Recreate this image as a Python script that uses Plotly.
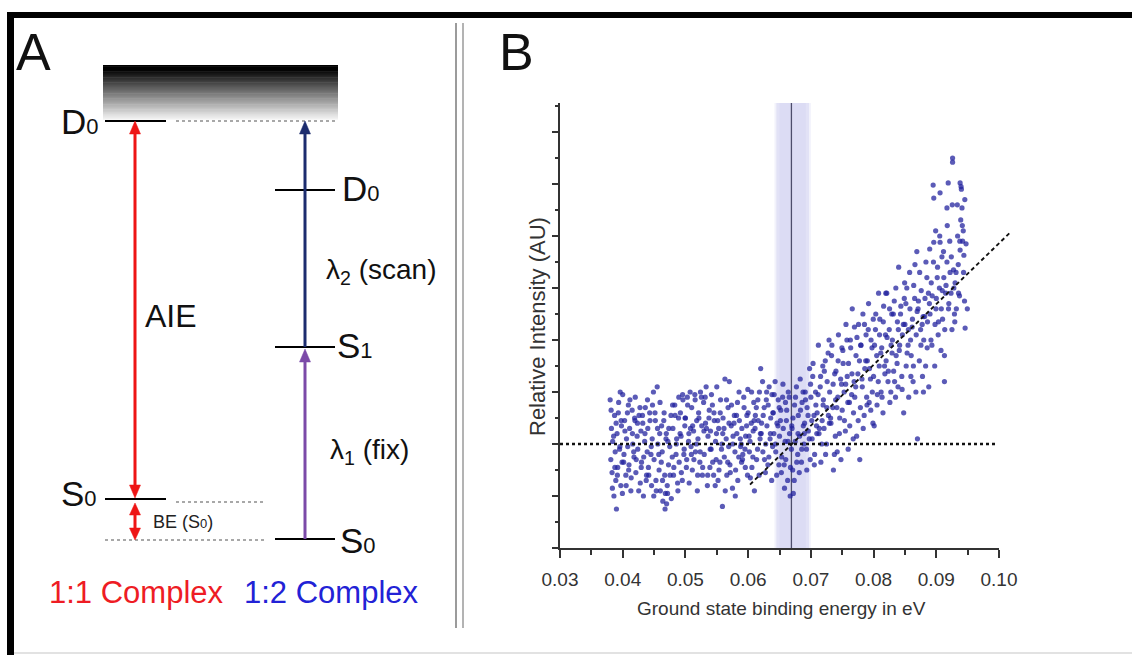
import plotly.graph_objects as go

W, H = 1132, 655

# ---------------- Panel B data ----------------
energy_ev = [
    0.0380, 0.0381, 0.0382, 0.0383, 0.0384, 0.0386, 0.0387, 0.0388, 0.0389,
    0.0390, 0.0391, 0.0392, 0.0393, 0.0395, 0.0396, 0.0397, 0.0398, 0.0399,
    0.0400, 0.0402, 0.0403, 0.0405, 0.0406, 0.0408, 0.0409,
    0.0410, 0.0411, 0.0413, 0.0415, 0.0416, 0.0418, 0.0419,
    0.0420, 0.0421, 0.0423, 0.0424, 0.0426, 0.0428, 0.0429,
    0.0430, 0.0432, 0.0433, 0.0435, 0.0436, 0.0438, 0.0439,
    0.0440, 0.0441, 0.0443, 0.0445, 0.0446, 0.0447, 0.0449,
    0.0450, 0.0452, 0.0453, 0.0455, 0.0456, 0.0458, 0.0459,
    0.0460, 0.0462, 0.0463, 0.0464, 0.0466, 0.0467, 0.0468, 0.0469,
    0.0470, 0.0471, 0.0472, 0.0473, 0.0475, 0.0477, 0.0479,
    0.0480, 0.0481, 0.0483, 0.0485, 0.0486, 0.0488, 0.0489,
    0.0490, 0.0492, 0.0493, 0.0495, 0.0496, 0.0498, 0.0499,
    0.0500, 0.0502, 0.0503, 0.0505, 0.0506, 0.0508, 0.0509,
    0.0510, 0.0511, 0.0513, 0.0515, 0.0516, 0.0518, 0.0519,
    0.0520, 0.0521, 0.0523, 0.0524, 0.0526, 0.0527, 0.0529,
    0.0530, 0.0532, 0.0533, 0.0535, 0.0536, 0.0538, 0.0539,
    0.0540, 0.0541, 0.0543, 0.0545, 0.0546, 0.0548, 0.0549,
    0.0550, 0.0552, 0.0553, 0.0555, 0.0556, 0.0558, 0.0559,
    0.0560, 0.0562, 0.0563, 0.0565, 0.0566, 0.0568, 0.0569,
    0.0570, 0.0571, 0.0573, 0.0575, 0.0576, 0.0578, 0.0579,
    0.0580, 0.0582, 0.0583, 0.0585, 0.0586, 0.0588, 0.0589,
    0.0590, 0.0591, 0.0593, 0.0595, 0.0596, 0.0598, 0.0599,
    0.0600, 0.0602, 0.0603, 0.0605, 0.0606, 0.0608, 0.0609,
    0.0610, 0.0611, 0.0613, 0.0615, 0.0616, 0.0618, 0.0619,
    0.0620, 0.0621, 0.0623, 0.0624, 0.0626, 0.0628, 0.0629,
    0.0630, 0.0632, 0.0633, 0.0635, 0.0636, 0.0638, 0.0639,
    0.0640, 0.0641, 0.0643, 0.0644, 0.0646, 0.0648, 0.0649,
    0.0650, 0.0652, 0.0653, 0.0655, 0.0656, 0.0658, 0.0659,
    0.0660, 0.0661, 0.0663, 0.0664, 0.0666, 0.0667, 0.0669,
    0.0670, 0.0671, 0.0672, 0.0674, 0.0675, 0.0677, 0.0679,
    0.0680, 0.0682, 0.0683, 0.0685, 0.0686, 0.0688, 0.0689,
    0.0690, 0.0691, 0.0693, 0.0694, 0.0696, 0.0698, 0.0699,
    0.0700, 0.0702, 0.0703, 0.0705, 0.0706, 0.0708, 0.0709,
    0.0710, 0.0712, 0.0713, 0.0715, 0.0716, 0.0718, 0.0719,
    0.0720, 0.0721, 0.0723, 0.0725, 0.0726, 0.0728, 0.0729,
    0.0730, 0.0732, 0.0733, 0.0735, 0.0736, 0.0738, 0.0739,
    0.0740, 0.0742, 0.0743, 0.0744, 0.0746, 0.0748, 0.0749,
    0.0750, 0.0751, 0.0753, 0.0755, 0.0756, 0.0758, 0.0759,
    0.0760, 0.0762, 0.0763, 0.0765, 0.0766, 0.0768, 0.0769,
    0.0770, 0.0772, 0.0773, 0.0775, 0.0776, 0.0778, 0.0779,
    0.0780, 0.0782, 0.0783, 0.0785, 0.0786, 0.0788, 0.0789,
    0.0790, 0.0792, 0.0793, 0.0795, 0.0796, 0.0798, 0.0799,
    0.0800, 0.0801, 0.0803, 0.0805, 0.0806, 0.0808, 0.0809,
    0.0810, 0.0812, 0.0813, 0.0815, 0.0816, 0.0818, 0.0819,
    0.0820, 0.0821, 0.0823, 0.0825, 0.0826, 0.0828, 0.0829,
    0.0830, 0.0832, 0.0833, 0.0835, 0.0836, 0.0838, 0.0839,
    0.0840, 0.0841, 0.0843, 0.0845, 0.0846, 0.0848, 0.0849,
    0.0850, 0.0852, 0.0853, 0.0855, 0.0856, 0.0858, 0.0859,
    0.0860, 0.0862, 0.0863, 0.0864, 0.0866, 0.0868, 0.0869,
    0.0870, 0.0871, 0.0873, 0.0875, 0.0876, 0.0878, 0.0879,
    0.0880, 0.0882, 0.0883, 0.0885, 0.0886, 0.0888, 0.0889,
    0.0890, 0.0892, 0.0893, 0.0895, 0.0896, 0.0896, 0.0898, 0.0899,
    0.0900, 0.0902, 0.0903, 0.0905, 0.0906, 0.0906, 0.0908, 0.0909,
    0.0910, 0.0912, 0.0913, 0.0913, 0.0915, 0.0917, 0.0917, 0.0919,
    0.0920, 0.0922, 0.0924, 0.0925, 0.0926, 0.0926, 0.0928, 0.0929,
    0.0930, 0.0932, 0.0934, 0.0935, 0.0937, 0.0938, 0.0938, 0.0939,
    0.0940, 0.0941, 0.0942, 0.0943, 0.0944, 0.0945, 0.0946,
]
rel_intensity = [
    0.85, -0.30, 0.30, -0.55, 0.05, -1.00, 0.55, -0.15, -0.70,
    -1.25, 0.20, -0.45, 0.60, -0.10, 1.00, -0.80, 0.35, -0.35,
    0.95, -0.20, 0.45, -0.60, 0.10, -0.05, 0.75,
    -0.40, 0.30, -0.90, 0.65, 0.00, -0.25, 0.50,
    0.90, -0.55, 0.15, -0.10, 0.55, -0.75, 0.25,
    -0.35, 0.40, -1.00, 0.05, 0.70, -0.60, -0.15,
    0.30, -0.45, 0.60, -0.20, -0.80, 0.10, 1.00,
    -0.30, 0.45, -0.70, 1.10, 0.00, -0.50, 0.20,
    -0.90, 0.35, -0.15, -1.10, 0.60, -0.60, -0.95, 0.10,
    -1.15, -0.80, 0.05, -0.40, -0.05, 0.55, -0.25,
    0.30, -0.60, 0.75, -0.20, 0.10, -0.90, 0.50,
    -0.35, 0.60, 0.15, -0.70, 0.85, -0.10, 0.35,
    0.50, -0.30, 0.90, 0.05, -0.75, 0.30, -0.05,
    0.70, -0.50, 0.25, 0.95, -0.15, 0.45, -0.90,
    0.10, 0.60, -0.35, 1.00, 0.35, -0.60, 0.80,
    -0.20, 0.40, 1.10, -0.80, 0.15, 0.65, -0.45,
    0.25, -0.10, 0.75, -0.60, 0.45, 0.05, -0.30,
    1.10, -0.70, 0.30, -0.35, 0.85, 0.00, -1.20,
    0.50, -0.25, 1.25, 0.10, -0.60, 0.70, -0.05,
    1.20, -0.40, 0.35, -0.85, 0.15, 0.55, -0.15,
    -0.50, 0.20, 0.80, -0.25, 0.45, -0.05, 0.00,
    0.30, -0.30, 0.90, -0.10, 0.15, 0.55, -0.60,
    0.60, -0.15, 0.05, 0.40, -0.45, 0.25, 0.80,
    -0.90, 0.30, 0.70, -0.10, 0.45, 1.00, 0.10,
    1.45, 0.20, 1.20, 0.55, -0.30, 0.00, 0.85,
    0.35, 0.75, -0.25, 0.10, 0.50, 0.95, -0.05,
    0.60, 0.20, 1.20, -0.15, 0.40, 0.85, -0.40,
    0.15, 0.65, -0.55, 0.90, 0.30, -0.85, 0.05,
    -0.30, 0.45, -0.70, 1.00, 0.20, -1.00, -0.10,
    0.30, -0.50, -0.95, 0.75, 0.05, 1.10, -0.20,
    0.55, 0.15, 1.25, -0.35, 0.80, 0.35, 0.00,
    0.40, 1.00, -0.10, 0.70, 0.25, 1.45, -0.30,
    0.90, 0.10, 1.30, 0.55, -0.20, 0.75, 0.35,
    0.60, 1.90, 0.20, 1.10, -0.35, 0.45, 1.50,
    0.85, 0.30, 1.60, 0.00, 1.20, 0.55, 2.00,
    1.00, 0.40, 1.70, 0.70, -0.50, 1.35, 0.15,
    1.40, -0.15, 0.90, 2.10, 0.50, -0.30, 1.15,
    0.65, 1.80, 1.00, 0.25, 2.30, 1.30, 0.80,
    1.55, 0.35, 2.00, 0.95, 2.60, 0.60, 1.20,
    0.90, 1.70, 0.15, 1.35, 2.30, -0.30, 0.70,
    1.90, 1.10, 2.50, 0.55, 1.45, 2.10, 0.90,
    1.60, 2.70, 0.80, 1.25, 2.00, 1.00, 0.40,
    1.30, 0.35, 2.20, 1.70, 0.95, 2.90, 1.50,
    2.40, 1.00, 1.85, 0.60, 2.65, 1.35, 2.10,
    1.60, 2.90, 1.20, 2.20, 0.80, 1.90, 2.50,
    2.00, 1.40, 2.75, 0.90, 1.70, 2.35, 1.10,
    3.40, 1.80, 2.50, 1.30, 2.10, 0.60, 2.80,
    2.30, 1.50, 3.00, 1.90, 0.90, 2.60, 2.00,
    1.70, 2.40, 1.20, 3.05, 3.45, 2.10, 3.70,
    0.10, 2.60, 1.60, 2.20, 2.95, 1.30, 2.45,
    2.00, 2.80, 1.50, 3.20, 2.35, 1.10, 2.70,
    2.50, 3.10, 1.90, 4.98, 4.73, 3.88, 2.30, 4.10,
    2.80, 3.40, 2.10, 3.00, 4.83, 3.88, 2.60, 3.60,
    2.40, 3.20, 1.70, 1.20, 2.90, 4.54, 3.50, 5.02,
    2.70, 3.30, 3.60, 2.20, 5.50, 5.42, 3.00, 2.50,
    3.10, 2.60, 4.00, 3.45, 2.85, 5.02, 3.73, 4.31,
    4.90, 4.54, 3.90, 4.10, 3.63, 2.75, 2.23,
]

# second group of scan points (same scan, points between the ones above)
energy_ev_b = [
    0.03815, 0.03835, 0.03855, 0.03875, 0.03895,
    0.03915, 0.03935, 0.03955, 0.03975, 0.03995,
    0.04015, 0.04035, 0.04055, 0.04075, 0.04095,
    0.04115, 0.04135, 0.04155, 0.04175, 0.04195,
    0.04215, 0.04235, 0.04255, 0.04275, 0.04295,
    0.04315, 0.04335, 0.04355, 0.04375, 0.04395,
    0.04415, 0.04435, 0.04455, 0.04475, 0.04495,
    0.04515, 0.04535, 0.04555, 0.04575, 0.04595,
    0.04615, 0.04635, 0.04655, 0.04675, 0.04695,
    0.04715, 0.04735, 0.04755, 0.04775, 0.04795,
    0.04815, 0.04835, 0.04855, 0.04875, 0.04895,
    0.04915, 0.04935, 0.04955, 0.04975, 0.04995,
    0.05015, 0.05035, 0.05055, 0.05075, 0.05095,
    0.05115, 0.05135, 0.05155, 0.05175, 0.05195,
    0.05215, 0.05235, 0.05255, 0.05275, 0.05295,
    0.05315, 0.05335, 0.05355, 0.05375, 0.05395,
    0.05415, 0.05435, 0.05455, 0.05475, 0.05495,
    0.05515, 0.05535, 0.05555, 0.05575, 0.05595,
    0.05615, 0.05635, 0.05655, 0.05675, 0.05695,
    0.05715, 0.05735, 0.05755, 0.05775, 0.05795,
    0.05815, 0.05835, 0.05855, 0.05875, 0.05895,
    0.05915, 0.05935, 0.05955, 0.05975, 0.05995,
    0.06015, 0.06035, 0.06055, 0.06075, 0.06095,
    0.06115, 0.06135, 0.06155, 0.06175, 0.06195,
    0.06215, 0.06235, 0.06255, 0.06275, 0.06295,
    0.06315, 0.06335, 0.06355, 0.06375, 0.06395,
    0.06415, 0.06435, 0.06455, 0.06475, 0.06495,
    0.06515, 0.06535, 0.06555, 0.06575, 0.06595,
    0.06615, 0.06635, 0.06655, 0.06675, 0.06695,
    0.06715, 0.06735, 0.06755, 0.06775, 0.06795,
    0.06815, 0.06835, 0.06855, 0.06875, 0.06895,
    0.06915, 0.06935, 0.06955, 0.06975, 0.06995,
    0.07015, 0.07035, 0.07055, 0.07075, 0.07095,
    0.07115, 0.07135, 0.07155, 0.07175, 0.07195,
    0.07215, 0.07235, 0.07255, 0.07275, 0.07295,
    0.07315, 0.07335, 0.07355, 0.07375, 0.07395,
    0.07415, 0.07435, 0.07455, 0.07475, 0.07495,
    0.07515, 0.07535, 0.07555, 0.07575, 0.07595,
    0.07615, 0.07635, 0.07655, 0.07675, 0.07695,
    0.07715, 0.07735, 0.07755, 0.07775, 0.07795,
    0.07815, 0.07835, 0.07855, 0.07875, 0.07895,
    0.07915, 0.07935, 0.07955, 0.07975, 0.07995,
    0.08015, 0.08035, 0.08055, 0.08075, 0.08095,
    0.08115, 0.08135, 0.08155, 0.08175, 0.08195,
    0.08215, 0.08235, 0.08255, 0.08275, 0.08295,
    0.08315, 0.08335, 0.08355, 0.08375, 0.08395,
    0.08415, 0.08435, 0.08455, 0.08475, 0.08495,
    0.08515, 0.08535, 0.08555, 0.08575, 0.08595,
    0.08615, 0.08635, 0.08655, 0.08675, 0.08695,
    0.08715, 0.08735, 0.08755, 0.08775, 0.08795,
    0.08815, 0.08835, 0.08855, 0.08875, 0.08895,
    0.08915, 0.08935, 0.08955, 0.08975, 0.08995,
    0.09015, 0.09035, 0.09055, 0.09075, 0.09095,
    0.09115, 0.09135, 0.09155, 0.09175, 0.09195,
    0.09215, 0.09235, 0.09255, 0.09275, 0.09295,
    0.09315, 0.09335, 0.09355, 0.09375, 0.09395,
    0.09415, 0.09435, 0.09455, 0.09475, 0.09495,
]
rel_intensity_b = [
    0.65, -0.85, 0.15, -0.45, 0.40,
    -0.60, 0.80, -0.05, 0.45, -0.95,
    -0.35, 0.25, -0.80, 0.60, -0.50,
    0.85, -0.65, 0.20, -0.15, 0.45,
    -0.30, 0.40, -0.90, 0.70, -0.45,
    0.55, -0.25, 0.20, -0.70, 0.85,
    -0.60, 0.45, -0.05, 0.75, -1.00,
    0.60, -0.90, 0.30, -0.20, 0.80,
    -0.35, -0.70, 0.45, -1.25, 0.20,
    -0.95, 0.30, -0.60, -1.05, 0.75,
    -0.45, 0.55, 0.00, -0.75, 0.90,
    0.20, -0.55, 0.95, -0.20, 0.50,
    -0.45, 0.75, 0.20, 1.00, -0.20,
    0.35, -0.30, 0.85, 0.00, -0.60,
    0.50, -0.15, 0.90, -0.45, 0.25,
    0.90, 0.30, -0.60, 0.50, -0.10,
    0.95, -0.35, 0.60, -0.80, 0.20,
    0.45, -0.50, 0.60, -0.10, 0.20,
    0.30, -0.90, 0.85, -0.35, 0.40,
    -0.55, 0.75, 0.00, 0.40, -1.00,
    0.55, -0.70, 1.00, 0.10, -0.35,
    -0.20, 0.70, -0.45, 0.35, 1.05,
    0.15, -0.65, 1.00, -0.25, 0.45,
    0.55, -0.30, 0.85, -0.60, 0.20,
    0.40, -0.15, 0.70, -0.55, 1.00,
    -0.40, 1.10, 0.20, -0.70, 0.60,
    0.95, 0.00, -0.60, 0.35, 0.70,
    0.45, -0.25, 1.15, -0.40, 0.80,
    0.65, 0.05, 0.90, -0.45, 0.35,
    0.50, -0.70, 0.90, -0.35, 0.20,
    -0.55, 0.65, -0.10, 1.00, 0.20,
    0.85, -0.50, 0.55, 0.10, 1.15,
    0.45, 1.55, -0.40, 1.00, 0.20,
    0.95, 0.30, 1.30, 0.00, 0.75,
    1.40, -0.20, 0.70, 1.75, 0.40,
    0.50, 1.90, 1.15, -0.20, 0.85,
    0.70, 1.60, 0.20, 1.25, 1.85,
    1.55, 0.45, 1.15, 2.00, -0.10,
    0.80, 1.85, 1.35, 0.10, 2.25,
    1.10, 2.05, 0.45, 1.60, 1.90,
    1.25, 0.30, 2.30, 1.60, 0.75,
    2.20, 1.45, 0.65, 1.85, 2.40,
    1.90, 2.50, 0.75, 1.20, 2.10,
    1.75, 0.90, 2.35, 1.50, 2.90,
    2.05, 1.40, 2.60, 1.00, 1.75,
    2.50, 1.20, 3.00, 1.55, 2.20,
    1.90, 2.65, 1.05, 2.30, 3.10,
    2.70, 1.75, 2.20, 3.30, 1.30,
    2.25, 1.50, 2.80, 1.00, 2.55,
    2.75, 3.30, 1.90, 2.30, 1.00,
    2.45, 3.50, 1.85, 2.90, 3.75,
    2.00, 2.85, 3.50, 1.50, 2.60,
    3.20, 2.35, 4.00, 1.80, 2.95,
    3.70, 2.20, 3.05, 4.20, 2.60,
    3.90, 2.90, 4.60, 3.35, 2.35,
    3.30, 4.60, 2.90, 3.90, 4.95,
    4.20, 3.30, 4.70, 3.85, 2.60,
]

x_tick_values = [0.03, 0.04, 0.05, 0.06, 0.07, 0.08, 0.09, 0.10]
x_tick_labels = ["0.03", "0.04", "0.05", "0.06", "0.07", "0.08", "0.09", "0.10"]
x_minor_values = [0.035, 0.045, 0.055, 0.065, 0.075, 0.085, 0.095]

baseline_x = [0.030, 0.0995]
baseline_y = [0.0, 0.0]
fit_x = [0.0603, 0.1018]
fit_y = [-0.78, 4.07]
onset_ev = 0.0669
onset_band = [0.0645, 0.0697]

# ---------------- Panel A schematic levels (pixel positions) ----------------
level_left = {"D0": 121, "S0": 499, "base": 540}
level_right = {"D0": 190, "S1": 347, "S0": 539}

FONT = "Liberation Sans, Arial, sans-serif"


def px(x):
    return x / W


def py(y):
    return 1 - y / H


fig = go.Figure()

dot_color = "rgba(34,34,158,0.74)"
fig.add_trace(go.Scatter(
    x=energy_ev, y=rel_intensity, mode="markers",
    marker=dict(size=5.2, color=dot_color, line=dict(width=0)),
    xaxis="x", yaxis="y", hoverinfo="skip", showlegend=False))
fig.add_trace(go.Scatter(
    x=energy_ev_b, y=rel_intensity_b, mode="markers",
    marker=dict(size=5.2, color=dot_color, line=dict(width=0)),
    xaxis="x", yaxis="y", hoverinfo="skip", showlegend=False))
fig.add_trace(go.Scatter(
    x=baseline_x, y=baseline_y, mode="lines",
    line=dict(color="#111", width=2.3, dash="dot"),
    xaxis="x", yaxis="y", showlegend=False, hoverinfo="skip"))
fig.add_trace(go.Scatter(
    x=fit_x, y=fit_y, mode="lines",
    line=dict(color="#111", width=1.9, dash="4px,3px"),
    xaxis="x3", yaxis="y", showlegend=False, hoverinfo="skip"))

x_left_px, x_right_px, x_ext_px = 560, 999, 1015
y_bot_px, y_top_px = 548, 103
unit_px = 52.0
xspan = 0.10 - 0.03
ext_range_max = 0.03 + xspan * (x_ext_px - x_left_px) / (x_right_px - x_left_px)
y_range = [-2, -2 + (y_bot_px - y_top_px) / unit_px]

axis_col = "#333333"
fig.update_layout(
    template="none",
    width=W, height=H, autosize=False, margin=dict(l=0, r=0, t=0, b=0, pad=0, autoexpand=False),
    paper_bgcolor="white", plot_bgcolor="rgba(0,0,0,0)",
    showlegend=False,
    xaxis=dict(
        domain=[px(x_left_px), px(x_right_px)], range=[0.03, 0.10], anchor="y",
        automargin=False,
        showline=True, linecolor=axis_col, linewidth=1.6,
        ticks="outside", ticklen=8, tickwidth=1.5, tickcolor=axis_col,
        tickvals=x_tick_values, ticktext=x_tick_labels,
        tickfont=dict(family=FONT, size=19, color="#333"),
        ticklabelstandoff=5,
        minor=dict(tickvals=x_minor_values, ticks="outside", ticklen=5,
                   tickwidth=1.5, tickcolor=axis_col, showgrid=False),
        showgrid=False, zeroline=False, fixedrange=True,
    ),
    xaxis3=dict(
        domain=[px(x_left_px), px(x_ext_px)], range=[0.03, ext_range_max], anchor="y",
        automargin=False, visible=False, showgrid=False, zeroline=False,
    ),
    yaxis=dict(
        domain=[py(y_bot_px), py(y_top_px)], range=y_range, anchor="x",
        automargin=False,
        showline=True, linecolor=axis_col, linewidth=1.6,
        ticks="outside", ticklen=6, tickwidth=1.5, tickcolor=axis_col,
        tick0=0, dtick=1, showticklabels=False,
        minor=dict(ticks="outside", ticklen=3, tickwidth=1.5, tickcolor=axis_col,
                   dtick=0.5, tick0=0, showgrid=False),
        showgrid=False, zeroline=False, fixedrange=True,
    ),
)

shapes = []
shapes.append(dict(type="rect", xref="x", yref="y domain", x0=onset_band[0] - 0.0003,
                   x1=onset_band[1] + 0.0003, y0=0, y1=1,
                   fillcolor="rgba(218,218,244,0.35)", line=dict(width=0), layer="below"))
shapes.append(dict(type="rect", xref="x", yref="y domain", x0=onset_band[0], x1=onset_band[1],
                   y0=0, y1=1, fillcolor="rgba(208,208,241,0.48)", line=dict(width=0), layer="below"))
shapes.append(dict(type="rect", xref="x", yref="y domain", x0=onset_band[0] + 0.0005,
                   x1=onset_band[1] - 0.0005, y0=0, y1=1,
                   fillcolor="rgba(205,205,240,0.3)", line=dict(width=0), layer="below"))
shapes.append(dict(type="line", xref="x", yref="y domain", x0=onset_ev, x1=onset_ev, y0=0, y1=1,
                   line=dict(color="#4d4d6b", width=1.3), layer="below"))


def pline(x0, y0, x1, y1, color="black", width=2, dash=None):
    ln = dict(color=color, width=width)
    if dash:
        ln["dash"] = dash
    shapes.append(dict(type="line", xref="paper", yref="paper",
                       x0=px(x0), y0=py(y0), x1=px(x1), y1=py(y1), line=ln))


def prect(x0, y0, x1, y1, color):
    shapes.append(dict(type="rect", xref="paper", yref="paper",
                       x0=px(x0), y0=py(y0), x1=px(x1), y1=py(y1),
                       fillcolor=color, line=dict(width=0)))


def head(x, tip, direction, color, w=5.5, L=13):
    base = tip - direction * L
    path = "M {} {} L {} {} L {} {} Z".format(
        px(x), py(tip), px(x - w), py(base), px(x + w), py(base))
    shapes.append(dict(type="path", xref="paper", yref="paper", path=path,
                       fillcolor=color, line=dict(color=color, width=0.5)))


# outer frame
prect(7, 12, W + 2, 18, "black")
prect(7, 12, 14, H + 2, "black")
pline(14, 653, W, 653, color="#d8d8d8", width=1.5)
# separator
pline(456, 23, 456, 628, color="#7a7a7a", width=1.5)
pline(463, 23, 463, 628, color="#9a9a9a", width=1.5)

# gradient continuum box
n = 44
gy0, gy1 = 65, 119
for i in range(n):
    t = i / (n - 1)
    v = int(round(240 * max(0.0, (t - 0.08) / 0.92) ** 0.95))
    ya = gy0 + (gy1 - gy0) * i / n
    yb = gy0 + (gy1 - gy0) * (i + 1) / n + 0.6
    prect(103, ya, 338, yb, "rgb({0},{0},{0})".format(v))

# levels
pline(105, level_left["D0"], 166, level_left["D0"])
pline(176, level_left["D0"], 338, level_left["D0"], color="#8c8c8c", width=1.5, dash="dot")
pline(105, level_left["S0"], 166, level_left["S0"])
pline(176, level_left["S0"] + 3, 265, level_left["S0"] + 3, color="#8c8c8c", width=1.5, dash="dot")
pline(105, level_left["base"], 266, level_left["base"], color="#8c8c8c", width=1.5, dash="dot")
for key in ("D0", "S1", "S0"):
    pline(275, level_right[key], 335, level_right[key])

RED = "#ee1515"
NAVY = "#1c2c6e"
PURPLE = "#7b4aa8"
pline(135, level_left["D0"] + 8, 135, level_left["S0"] - 8, color=RED, width=3)
head(135, level_left["D0"], -1, RED)
head(135, level_left["S0"] - 1, +1, RED)
pline(135, 510, 135, 532, color=RED, width=3)
head(135, 503, -1, RED, L=12)
head(135, level_left["base"], +1, RED, L=12)
pline(305, level_right["S1"], 305, level_left["D0"] + 8, color=NAVY, width=3)
head(305, level_left["D0"], -1, NAVY)
pline(305, level_right["S0"], 305, level_right["S1"] + 9, color=PURPLE, width=3)
head(305, level_right["S1"] + 2, -1, PURPLE)

fig.update_layout(shapes=shapes)

ann = []


def text(x, y, s, size, color="#111", angle=0):
    ann.append(dict(x=px(x), y=py(y), xref="paper", yref="paper", text=s,
                    showarrow=False, xanchor="center", yanchor="middle", textangle=angle,
                    font=dict(family=FONT, size=size, color=color)))


def small0(big, sub, small):
    return '{}<span style="font-size:{}px">{}</span>'.format(big, small, sub)


text(33, 52, "A", 52)
text(516, 52, "B", 52)
text(80, 121, small0("D", "0", 22), 35)
text(79, 493, small0("S", "0", 22), 35)
text(361, 189, small0("D", "0", 22), 35)
text(355, 345, small0("S", "1", 22), 35)
text(358, 540, small0("S", "0", 22), 35)
text(171, 316, "AIE", 32)
text(381, 271, "λ<sub>2</sub> (scan)", 28)
text(369, 451, "λ<sub>1</sub> (fix)", 28)
text(183, 522, "BE (S" + '<span style="font-size:13px">0</span>' + ")", 18, color="#222")
text(136, 592, "1:1 Complex", 31, color="#ee1c24")
text(332, 592, "1:2 Complex", 31, color="#2222d6")

text(537, 327, "Relative Intensity (AU)", 22, color="#333", angle=-90)
text(781, 608, "Ground state binding energy in eV", 19, color="#333")

fig.update_layout(annotations=ann)

fig.write_html(
    "out.html",
    config={"responsive": False, "displayModeBar": False},
    post_script="document.documentElement.style.overflow='hidden';"
                "document.body.style.margin='0';document.body.style.overflow='hidden';",
)
